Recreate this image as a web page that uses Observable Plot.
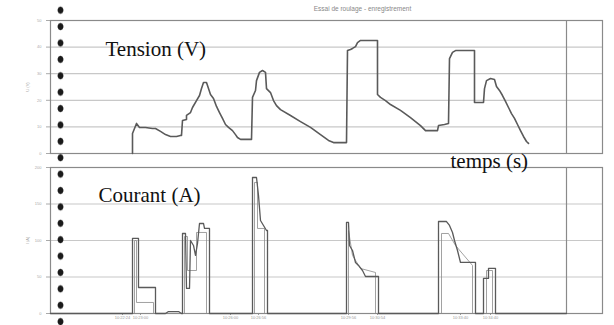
<!DOCTYPE html>
<html><head><meta charset="utf-8">
<script src="https://cdn.jsdelivr.net/npm/d3@7"></script>
<script src="https://cdn.jsdelivr.net/npm/@observablehq/plot@0.6"></script>
<style>
html,body{margin:0;padding:0;background:#fff;}
#wrap{position:relative;width:614px;height:325px;overflow:hidden;background:#fff;}
#top,#bot{position:absolute;left:0;}
#top{top:0;} #bot{top:155px;}
#holes{position:absolute;left:56px;top:2px;width:9px;height:323px;
  background-image:radial-gradient(ellipse 3px 3.6px, #1a1a1a 0 2.4px, rgba(0,0,0,0) 3.4px);
  background-size:9px 16.4px;}
</style></head><body>
<div id="wrap"><div id="top"></div><div id="bot"></div><div id="holes"></div></div>
<script>
// ---- data (time in s, voltage in V, current in A) ----
const tensionT = [164,164,168,172,178,190,204,210,220,230,240,252,260,262,264,272,272,280,284,292,298,302,306,312,316,320,326,332,338,344,350,356,364,370,374,380,402,404,410,412,418,424,430,432,440,446,452,460,480,500,520,540,556,566,592,594,600,604,610,614,620,654,654,660,670,680,700,720,740,750,774,776,788,796,798,804,810,848,848,866,868,872,880,888,892,898,904,910,916,922,928,934,940,946,952,956];
const tensionV = [0,7.5,9.4,11.3,9.8,9.8,9.4,9.4,8.3,7.1,6.4,6.4,6.8,6.8,12.4,12.8,14.3,15.4,17.3,19.9,21.8,24.4,26.7,26.7,24.4,22.2,20.7,17.7,15.4,13.2,10.9,9.8,8.6,7.1,6.0,5.3,5.3,21.1,23.7,27.4,30.5,31.2,30.5,24.4,22.9,19.9,18.0,16.5,14.3,12.0,9.8,7.1,4.9,4.1,4.1,38.7,39.1,39.5,40.2,41.7,42.5,42.5,22.2,21.1,19.9,18.4,16.2,13.5,10.5,8.6,8.6,10.5,10.9,11.3,35.7,38.0,38.7,38.7,19.2,19.2,24.4,27.4,28.2,27.8,25.2,23.7,21.8,19.6,17.3,15.0,13.2,10.9,8.6,6.4,4.5,3.8];

const courantT = [0,164,164,176,176,210,210,230,236,256,262,264,264,270,272,278,280,286,290,294,298,306,308,318,318,404,404,412,416,420,432,434,434,592,592,596,598,604,610,616,624,630,656,656,776,776,792,798,804,808,814,820,850,850,866,866,876,876,890,890,1032];
const courantA = [0,0,102.8,102.8,35.6,35.6,0,0,2.7,2.7,0,0,109.6,109.6,34.3,34.3,100.0,93.2,79.5,95.9,123.3,123.3,116.5,116.5,0,0,186.3,186.3,161.7,127.4,113.7,113.7,0,0,124.7,124.7,93.2,86.3,69.9,65.8,58.9,50.7,50.7,0,0,126.0,126.0,120.6,111.0,100.0,86.3,69.9,69.9,0,0,48.0,48.0,61.7,61.7,0,0];

// second (overlapping) current trace, null = gap
const courant2T = [168,168,172,172,206,206,null,268,268,274,274,292,292,312,312,null,408,408,414,414,428,428,null,596,596,604,620,650,650,null,782,782,796,810,844,844,null,872,872,884,884];
const courant2A = [0,100,100,15.1,15.1,0,null,0,105.5,105.5,58.9,58.9,111.0,111.0,0,null,0,179.5,179.5,116.5,116.5,0,null,0,113.7,79.5,61.7,56.2,0,null,0,109.6,109.6,93.2,65.8,0,null,0,58.9,58.9,0];

const vTicks = [0,10,20,30,40,50];
const aTicks = [0,50,100,150,200];
const endMarks = [1032];
const xTickTimes = [144,180,360,416,596,654,820,880];
const xTickLabels = ["10:22:24","10:23:00","10:26:00","10:26:56","10:29:56","10:30:54","10:33:40","10:34:40"];
const titleText = "Essai de roulage - enregistrement";

const tension = tensionT.map((t,i)=>({t, v: tensionV[i]}));
const courant = courantT.map((t,i)=>({t, a: courantA[i]}));
const courant2 = courant2T.map((t,i)=>({t, a: courant2A[i]}));

const serif = "Liberation Serif, Times New Roman, serif";
const traceColor = "#5a5a5a";

const topPlot = Plot.plot({
  width: 614, height: 165,
  marginLeft: 50, marginRight: 12, marginTop: 20, marginBottom: 12,
  style: {background: "transparent", fontFamily: "Liberation Sans, sans-serif", overflow: "visible"},
  x: {domain: [0, 1104], axis: null},
  y: {domain: [0, 50], axis: null},
  marks: [
    Plot.gridY(vTicks, {stroke: "#c8c8c8", strokeOpacity: 1, strokeWidth: 1.2}),
    Plot.axisY(vTicks, {tickSize: 4, fontSize: 4, color: "#aaa", label: "U (V)", labelAnchor: "center", labelArrow: false, labelOffset: 24}),
    Plot.frame({stroke: "#8a8a8a", strokeWidth: 1.2}),
    Plot.ruleX(endMarks, {stroke: "#8a8a8a", strokeWidth: 1.2}),
    Plot.line(tension, {x: "t", y: "v", stroke: traceColor, strokeWidth: 1.6}),
    Plot.text(["Tension (V)"], {x: 110, y: 39.1, textAnchor: "start", fontSize: 21, fontFamily: serif, fill: "#111"}),
    Plot.text([titleText], {x: 624, y: 54.5, fontSize: 6.5, fill: "#888"})
  ]
});
document.getElementById("top").appendChild(topPlot);

const botPlot = Plot.plot({
  width: 614, height: 170,
  marginLeft: 50, marginRight: 12, marginTop: 12, marginBottom: 12,
  style: {background: "transparent", fontFamily: "Liberation Sans, sans-serif", overflow: "visible"},
  x: {domain: [0, 1104], axis: null},
  y: {domain: [0, 200], axis: null},
  marks: [
    Plot.gridY(aTicks, {stroke: "#c8c8c8", strokeOpacity: 1, strokeWidth: 1.2}),
    Plot.axisY(aTicks, {tickSize: 4, fontSize: 4, color: "#aaa", label: "I (A)", labelAnchor: "center", labelArrow: false, labelOffset: 24}),
    Plot.axisX(xTickTimes, {tickSize: 2, fontSize: 4, color: "#999", tickPadding: 1, label: null,
      tickFormat: d => xTickLabels[xTickTimes.indexOf(d)]}),
    Plot.frame({stroke: "#8a8a8a", strokeWidth: 1.2}),
    Plot.ruleX(endMarks, {stroke: "#8a8a8a", strokeWidth: 1.2}),
    Plot.line(courant2, {x: "t", y: "a", stroke: "#8a8a8a", strokeWidth: 0.8}),
    Plot.line(courant, {x: "t", y: "a", stroke: traceColor, strokeWidth: 1.3}),
    Plot.text(["Courant (A)"], {x: 96, y: 161.7, textAnchor: "start", fontSize: 21, fontFamily: serif, fill: "#111"}),
    Plot.text(["temps (s)"], {x: 800, y: 208.2, textAnchor: "start", fontSize: 21, fontFamily: serif, fill: "#111"})
  ]
});
document.getElementById("bot").appendChild(botPlot);
</script>
</body></html>
